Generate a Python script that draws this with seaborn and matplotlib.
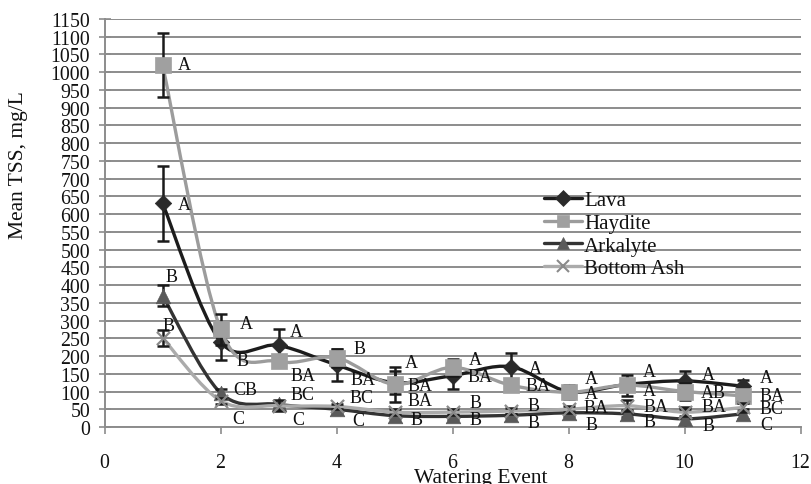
import numpy as np
import pandas as pd
import matplotlib
matplotlib.use("Agg")
import matplotlib.pyplot as plt
from matplotlib.path import Path
from matplotlib.patches import PathPatch
from matplotlib.lines import Line2D
import seaborn as sns

# ---- data ---------------------------------------------------------------
events = [1, 2, 3, 4, 5, 6, 7, 8, 9, 10, 11]
series_names = ["Lava", "Haydite", "Arkalyte", "Bottom Ash"]

lava_mean = [630, 240, 230, 175, 125, 145, 170, 100, 120, 130, 115]
lava_err = [105, 52, 47, 45, 32, 38, 38, 10, 15, 28, 18]
haydite_mean = [1020, 275, 185, 195, 120, 168, 118, 98, 118, 100, 88]
haydite_err = [90, 43, 15, 25, 50, 25, 10, 20, 30, 25, 20]
arkalyte_mean = [370, 96, 64, 50, 32, 30, 33, 40, 37, 23, 37]
arkalyte_err = [30, 10, 8, 10, 8, 8, 5, 8, 10, 33, 15]
ash_mean = [251, 74, 60, 58, 42, 42, 45, 50, 60, 42, 55]
ash_err = [23, 8, 15, 8, 8, 8, 8, 10, 15, 10, 12]

# significance letters for each series and event
lava_letters = ["A", "B", "A", "BA", "BA", "BA", "A", "A", "A", "A", "A"]
haydite_letters = ["A", "A", "BA", "B", "A", "A", "BA", "A", "A", "AB", "BA"]
arkalyte_letters = ["B", "CB", "BC", "BC", "BA", "B", "B", "BA", "BA", "BA", "BC"]
ash_letters = ["B", "C", "C", "C", "B", "B", "B", "B", "B", "B", "C"]

# ---- letter placement (layout only) --------------------------------------
lava_lab_x = [1.38, 2.38, 3.31, 4.46, 5.44, 6.48, 7.42, 8.40, 9.40, 10.41, 11.41]
lava_lab_y = [628, 187, 270, 135, 118, 142, 166, 138, 156, 149, 139]
haydite_lab_x = [1.38, 2.45, 3.42, 4.40, 5.29, 6.40, 7.48, 8.40, 9.40, 10.50, 11.50]
haydite_lab_y = [1021, 293, 145, 222, 182, 189, 116, 95, 102, 98, 88]
arkalyte_lab_x = [1.155, 2.42, 3.42, 4.43, 5.43, 6.40, 7.39, 8.48, 9.51, 10.50, 11.50]
arkalyte_lab_y = [425, 105, 91, 82, 74, 68, 62, 55, 58, 58, 51]
ash_lab_x = [1.10, 2.30, 3.34, 4.37, 5.38, 6.40, 7.39, 8.40, 9.40, 10.42, 11.41]
ash_lab_y = [287, 25, 20, 18, 21, 21, 13, 8, 16, 4, 8]

means = [lava_mean, haydite_mean, arkalyte_mean, ash_mean]
errs = [lava_err, haydite_err, arkalyte_err, ash_err]
letters = [lava_letters, haydite_letters, arkalyte_letters, ash_letters]
lab_x = [lava_lab_x, haydite_lab_x, arkalyte_lab_x, ash_lab_x]
lab_y = [lava_lab_y, haydite_lab_y, arkalyte_lab_y, ash_lab_y]

df = pd.concat(
    [pd.DataFrame({"Event": events, "TSS": m, "Err": e, "Material": n})
     for n, m, e in zip(series_names, means, errs)],
    ignore_index=True,
)

# ---- styles ---------------------------------------------------------------
line_colors = {"Lava": "#1c1c1c", "Haydite": "#9c9c9c",
               "Arkalyte": "#333333", "Bottom Ash": "#ababab"}
marker_colors = {"Lava": "#2a2a2a", "Haydite": "#a0a0a0",
                 "Arkalyte": "#5a5a5a", "Bottom Ash": "#8a8a8a"}
markers = {"Lava": "D", "Haydite": "s", "Arkalyte": "^", "Bottom Ash": "x"}
msizes = {"Lava": 70, "Haydite": 130, "Arkalyte": 110, "Bottom Ash": 90}

sns.set_theme(style="white")
plt.rcParams["font.family"] = ["Liberation Serif", "DejaVu Serif"]
plt.rcParams["mathtext.fontset"] = "stix"

fig = plt.figure(figsize=(8.11, 4.85), dpi=100)
ax = fig.add_axes([0.129, 0.1175, 0.8582, 0.8413])

grid_col = "#8c8c8c"
ax.set_xlim(0, 12)
ax.set_ylim(0, 1150)
ax.set_yticks(np.arange(0, 1151, 50))
ax.set_xticks(np.arange(0, 13, 2))
ax.yaxis.grid(True, color=grid_col, lw=1.4)
ax.xaxis.grid(False)
ax.set_axisbelow(True)
for s in ["top", "right"]:
    ax.spines[s].set_visible(False)
for s in ["left", "bottom"]:
    ax.spines[s].set_color(grid_col)
    ax.spines[s].set_linewidth(1.4)

ax.tick_params(axis="y", direction="inout", length=9, width=1.2, color=grid_col,
               labelsize=14.3, pad=6, left=True)
ax.tick_params(axis="x", direction="out", length=5, width=1.2, color=grid_col,
               labelsize=14.3, pad=14, bottom=True)
for lab in ax.get_yticklabels() + ax.get_xticklabels():
    lab.set_color("#111111")


def smooth_path(xs, ys):
    """Catmull-Rom style cubic Bezier path through the given points."""
    pts = np.column_stack([xs, ys]).astype(float)
    n = len(pts)
    verts = [pts[0]]
    codes = [Path.MOVETO]
    for i in range(n - 1):
        p0 = pts[i - 1] if i > 0 else pts[i]
        p1 = pts[i]
        p2 = pts[i + 1]
        p3 = pts[i + 2] if i + 2 < n else pts[i + 1]
        c1 = p1 + (p2 - p0) / 6.0
        c2 = p2 - (p3 - p1) / 6.0
        verts += [c1, c2, p2]
        codes += [Path.CURVE4] * 3
    return Path(verts, codes)


for i, name in enumerate(series_names):
    sub = df[df["Material"] == name]
    z = 2 + i
    ax.add_patch(PathPatch(smooth_path(sub["Event"], sub["TSS"]),
                           facecolor="none", edgecolor=line_colors[name],
                           lw=2.4, zorder=z))
    ax.errorbar(sub["Event"], sub["TSS"], yerr=sub["Err"], fmt="none",
                ecolor="#1a1a1a", elinewidth=1.8, capsize=4, capthick=1.8,
                zorder=z + 0.1)
    kw = dict(marker=markers[name], s=msizes[name], color=marker_colors[name],
              zorder=z + 0.2, legend=False)
    if markers[name] == "x":
        kw["linewidth"] = 1.6
    else:
        kw["edgecolor"] = marker_colors[name]
        kw["linewidth"] = 0.5
    sns.scatterplot(data=sub, x="Event", y="TSS", ax=ax, **kw)
    for t, lx, ly in zip(letters[i], lab_x[i], lab_y[i]):
        ax.text(lx, ly, t, ha="center", va="center", fontsize=13,
                color="#111111", zorder=10)

ax.set_xlabel("")
ax.set_ylabel("")

fig.text(19 / 811, 1 - 165 / 485, "Mean TSS, mg/L", rotation=90,
         ha="center", va="center", fontsize=15.5, color="#111111")
fig.text(481 / 811, 1 - 483 / 485, "Watering Event", ha="center",
         va="baseline", fontsize=15.5, color="#111111")

handles = []
for name in series_names:
    mk = markers[name]
    handles.append(Line2D([0], [0], color=line_colors[name], lw=2.4, marker=mk,
                          markersize=8 if mk != "x" else 9,
                          markerfacecolor=marker_colors[name],
                          markeredgecolor=marker_colors[name],
                          markeredgewidth=1.5 if mk == "x" else 0.5))
leg = ax.legend(handles, series_names, loc="upper left",
                bbox_to_anchor=(0.62, 0.6), frameon=False, fontsize=15,
                handlelength=1.8, handletextpad=0.1, labelspacing=0.15,
                borderaxespad=0)
for t in leg.get_texts():
    t.set_color("#111111")

fig.savefig("out.png", dpi=100)
